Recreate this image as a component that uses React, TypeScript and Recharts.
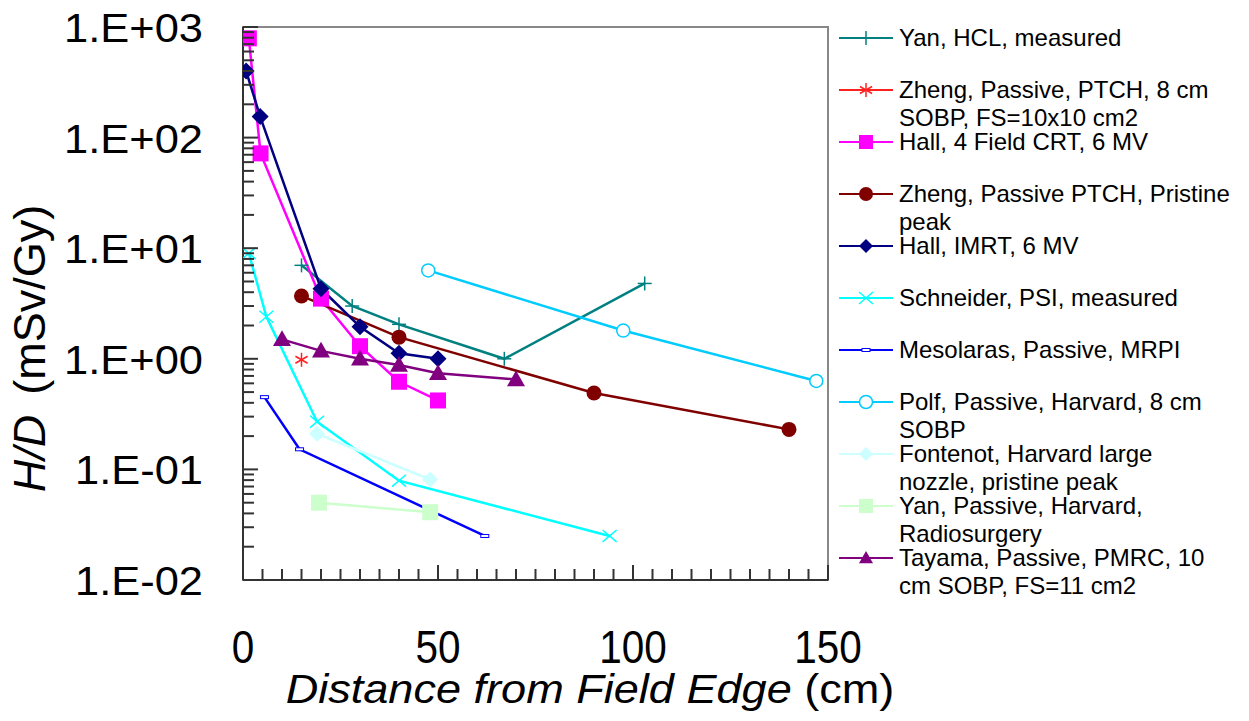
import React from "react";
import { LineChart, Line, XAxis, YAxis, ReferenceArea } from "recharts";

// distance from field edge (cm) vs H/D (mSv/Gy)
const yanHcl = [[15, 7.0], [28, 3.0], [40, 2.05], [67, 1.0], [103, 4.8]];
const zhengSobp = [[15, 0.98]];
const hallCrt = [[1.5, 790], [4.5, 72], [20, 3.5], [30, 1.3], [40, 0.62], [50, 0.42]];
const zhengPristine = [[15, 3.7], [40, 1.57], [90, 0.49], [140, 0.23]];
const hallImrt = [[0.8, 400], [4.4, 155], [20, 4.3], [30, 1.95], [40, 1.12], [50, 1.0]];
const schneider = [[1.5, 9.0], [6, 2.4], [19, 0.27], [40, 0.079], [94, 0.025]];
const mesolaras = [[5.5, 0.45], [14.5, 0.152], [62, 0.025]];
const polf = [[47.5, 6.3], [97.5, 1.8], [147, 0.63]];
const fontenot = [[19, 0.21], [48, 0.081]];
const yanPassive = [[19.5, 0.05], [48, 0.041]];
const tayama = [[10, 1.5], [20, 1.18], [30, 1.0], [40, 0.88], [50, 0.74], [70, 0.65]];

const xTicks = [0, 5, 10, 15, 20, 25, 30, 35, 40, 45, 50, 55, 60, 65, 70, 75, 80, 85, 90, 95, 100, 105, 110, 115, 120, 125, 130, 135, 140, 145, 150];
const decades = [0.01, 0.1, 1, 10, 100, 1000];
const decadeLabels = ["1.E-02", "1.E-01", "1.E+00", "1.E+01", "1.E+02", "1.E+03"];
const yTicks = decades.flatMap((d, i) =>
  i === decades.length - 1 ? [d] : [1, 2, 3, 4, 5, 6, 7, 8, 9].map((m) => m * d)
);

type Kind = "plus" | "star" | "square" | "circle" | "diamond" | "x" | "dash" | "ring" | "triangle";

const series: { name: string; points: number[][]; color: string; kind: Kind; size: number }[] = [
  { name: "Yan, HCL, measured", points: yanHcl, color: "#008080", kind: "plus", size: 7 },
  { name: "Zheng, Passive, PTCH, 8 cm\nSOBP, FS=10x10 cm2", points: zhengSobp, color: "#ff2020", kind: "star", size: 7 },
  { name: "Hall, 4 Field CRT, 6 MV", points: hallCrt, color: "#ff00ff", kind: "square", size: 8 },
  { name: "Zheng, Passive PTCH, Pristine\npeak", points: zhengPristine, color: "#800000", kind: "circle", size: 7.5 },
  { name: "Hall, IMRT, 6 MV", points: hallImrt, color: "#000080", kind: "diamond", size: 8.5 },
  { name: "Schneider, PSI, measured", points: schneider, color: "#00ffff", kind: "x", size: 7 },
  { name: "Mesolaras, Passive, MRPI", points: mesolaras, color: "#0000ff", kind: "dash", size: 4 },
  { name: "Polf, Passive, Harvard, 8 cm\nSOBP", points: polf, color: "#00ccff", kind: "ring", size: 6.5 },
  { name: "Fontenot, Harvard large\nnozzle, pristine peak", points: fontenot, color: "#ccffff", kind: "diamond", size: 8 },
  { name: "Yan, Passive, Harvard,\nRadiosurgery", points: yanPassive, color: "#ccffcc", kind: "square", size: 8 },
  { name: "Tayama, Passive, PMRC, 10\ncm SOBP, FS=11 cm2", points: tayama, color: "#800080", kind: "triangle", size: 9 },
];

const FONT = "'Liberation Sans', Arial, sans-serif";

function marker(kind: Kind, cx: number, cy: number, color: string, s: number, key?: string) {
  switch (kind) {
    case "plus":
      return (
        <g key={key} stroke={color} strokeWidth={1.5}>
          <line x1={cx - s} x2={cx + s} y1={cy} y2={cy} />
          <line x1={cx} x2={cx} y1={cy - s} y2={cy + s} />
        </g>
      );
    case "star":
      return (
        <g key={key} stroke={color} strokeWidth={1.5}>
          <line x1={cx} x2={cx} y1={cy - s} y2={cy + s} />
          <line x1={cx - s * 0.87} x2={cx + s * 0.87} y1={cy - s * 0.5} y2={cy + s * 0.5} />
          <line x1={cx - s * 0.87} x2={cx + s * 0.87} y1={cy + s * 0.5} y2={cy - s * 0.5} />
        </g>
      );
    case "square":
      return <rect key={key} x={cx - s} y={cy - s} width={2 * s} height={2 * s} fill={color} />;
    case "circle":
      return <circle key={key} cx={cx} cy={cy} r={s} fill={color} />;
    case "diamond":
      return <path key={key} d={`M${cx},${cy - s}L${cx + s},${cy}L${cx},${cy + s}L${cx - s},${cy}Z`} fill={color} />;
    case "x":
      return (
        <g key={key} stroke={color} strokeWidth={1.5}>
          <line x1={cx - s} x2={cx + s} y1={cy - s * 0.85} y2={cy + s * 0.85} />
          <line x1={cx - s} x2={cx + s} y1={cy + s * 0.85} y2={cy - s * 0.85} />
        </g>
      );
    case "dash":
      return <rect key={key} x={cx - s} y={cy - 1.5} width={2 * s} height={3} fill="#fff" stroke={color} strokeWidth={1} />;
    case "ring":
      return <circle key={key} cx={cx} cy={cy} r={s} fill="#fff" stroke={color} strokeWidth={1.5} />;
    case "triangle":
      return <path key={key} d={`M${cx},${cy - s}L${cx + s},${cy + s * 0.75}L${cx - s},${cy + s * 0.75}Z`} fill={color} />;
  }
}

const XTick = ({ x, y, payload }: any) => {
  const v = payload.value;
  const major = v % 50 === 0;
  return (
    <g>
      <line x1={x} x2={x} y1={y} y2={y - (major ? 15 : 11)} stroke="#333" strokeWidth={2} />
      {major && (
        <text transform={`translate(${x},${y + 83}) scale(0.88,1)`} textAnchor="middle" fontSize={46} fontFamily={FONT} fill="#000">
          {v}
        </text>
      )}
    </g>
  );
};

const YTick = ({ x, y, payload }: any) => {
  const v = payload.value;
  const idx = decades.findIndex((d) => Math.abs(d - v) / d < 1e-6);
  const major = idx >= 0;
  return (
    <g>
      <line x1={x} x2={x + (major ? 15 : 11)} y1={y} y2={y} stroke="#333" strokeWidth={2} />
      {major && (
        <text transform={`translate(${x - 40},${y + 15}) scale(1.06,1)`} textAnchor="end" fontSize={41} fontFamily={FONT} fill="#000">
          {decadeLabels[idx]}
        </text>
      )}
    </g>
  );
};

const YLabel = ({ viewBox }: any) => {
  const cx = viewBox.x - 14;
  const cy = viewBox.y + viewBox.height / 2 + 45;
  return (
    <text transform={`translate(${cx},${cy}) rotate(-90)`} textAnchor="middle" dominantBaseline="central" fontSize={45} fontFamily={FONT} fill="#000">
      <tspan fontStyle="italic">H/D</tspan>
      <tspan dx={20}>(mSv/Gy)</tspan>
    </text>
  );
};

const XLabel = ({ viewBox }: any) => {
  const cx = viewBox.x + 347;
  const cy = viewBox.y + 123;
  return (
    <text transform={`translate(${cx},${cy}) scale(1.1,1)`} textAnchor="middle" fontSize={41} fontFamily={FONT} fill="#000">
      <tspan fontStyle="italic">Distance from Field Edge</tspan>
      <tspan> (cm)</tspan>
    </text>
  );
};

function ChartLegend() {
  return (
    <div style={{ position: "absolute", left: 831, top: 16, fontFamily: FONT, fontSize: 24, color: "#000" }}>
      {series.map((s) => (
        <div key={s.name} style={{ height: 52, display: "flex", alignItems: "flex-start" }}>
          <svg width={54} height={28} style={{ flex: "none" }}>
            <line x1={0} x2={54} y1={14} y2={14} stroke={s.color} strokeWidth={2} />
            {marker(s.kind, 27, 14, s.color, s.kind === "dash" ? 4 : Math.min(s.size, 7))}
          </svg>
          <div style={{ marginLeft: 6, lineHeight: "28px", whiteSpace: "pre" }}>{s.name}</div>
        </div>
      ))}
    </div>
  );
}

export default function App() {
  return (
    <div style={{ position: "relative", width: 1233, height: 705, fontFamily: FONT }}>
      <LineChart width={1233} height={705} margin={{ top: 19, right: 413, bottom: 0, left: 35 }}>
        <ReferenceArea x1={0} x2={150} y1={0.01} y2={1000} fill="none" stroke="#888" strokeWidth={2} ifOverflow="visible" />
        <XAxis
          dataKey="x"
          type="number"
          domain={[0, 150]}
          ticks={xTicks}
          allowDataOverflow
          height={133}
          tickSize={0}
          tickMargin={0}
          tickLine={false}
          axisLine={{ stroke: "#333", strokeWidth: 2 }}
          tick={<XTick />}
          interval={0}
          label={<XLabel />}
        />
        <YAxis
          dataKey="y"
          type="number"
          scale="log"
          domain={[0.01, 1000]}
          ticks={yTicks}
          allowDataOverflow
          width={200}
          tickSize={0}
          tickMargin={0}
          tickLine={false}
          axisLine={{ stroke: "#333", strokeWidth: 2 }}
          tick={<YTick />}
          interval={0}
          label={<YLabel />}
        />
        {series.map((s) => (
          <Line
            key={s.name}
            name={s.name}
            data={s.points.map(([x, y]) => ({ x, y }))}
            dataKey="y"
            type="linear"
            stroke={s.color}
            strokeWidth={2.5}
            isAnimationActive={false}
            dot={(p: any) => marker(s.kind, p.cx, p.cy, s.color, s.size, `${s.name}-${p.index}`)}
            activeDot={false}
          />
        ))}
      </LineChart>
      <ChartLegend />
    </div>
  );
}
